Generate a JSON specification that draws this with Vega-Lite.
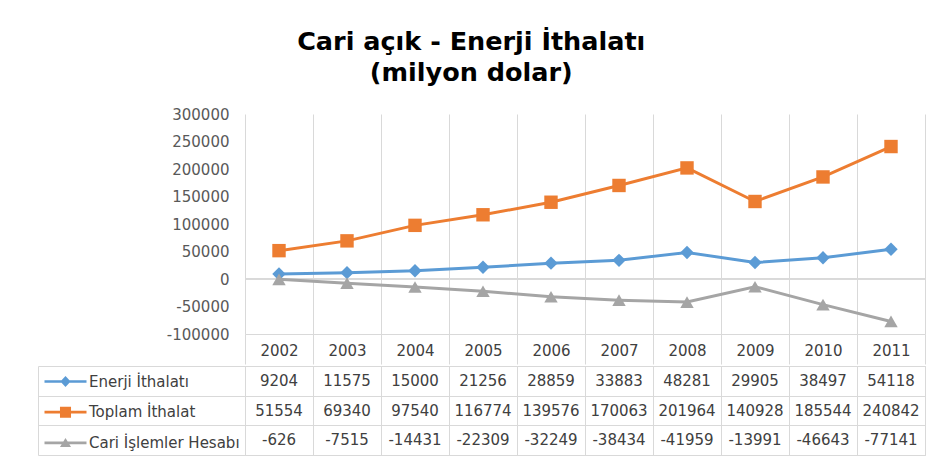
{
  "$schema": "https://vega.github.io/schema/vega-lite/v6.json",
  "background": "white",
  "padding": {"left": 37, "top": 29, "right": 10, "bottom": 5},
  "title": {
    "text": ["Cari açık - Enerji İthalatı", "(milyon dolar)"],
    "font": "DejaVu Sans",
    "fontWeight": "bold",
    "fontSize": 25.5,
    "lineHeight": 31,
    "color": "#000000",
    "anchor": "middle",
    "offset": 21,
    "dx": -10
  },
  "data": {
    "values": [
      {"year": "2002", "series": "Enerji İthalatı", "value": 9204},
      {"year": "2003", "series": "Enerji İthalatı", "value": 11575},
      {"year": "2004", "series": "Enerji İthalatı", "value": 15000},
      {"year": "2005", "series": "Enerji İthalatı", "value": 21256},
      {"year": "2006", "series": "Enerji İthalatı", "value": 28859},
      {"year": "2007", "series": "Enerji İthalatı", "value": 33883},
      {"year": "2008", "series": "Enerji İthalatı", "value": 48281},
      {"year": "2009", "series": "Enerji İthalatı", "value": 29905},
      {"year": "2010", "series": "Enerji İthalatı", "value": 38497},
      {"year": "2011", "series": "Enerji İthalatı", "value": 54118},
      {"year": "2002", "series": "Toplam İthalat", "value": 51554},
      {"year": "2003", "series": "Toplam İthalat", "value": 69340},
      {"year": "2004", "series": "Toplam İthalat", "value": 97540},
      {"year": "2005", "series": "Toplam İthalat", "value": 116774},
      {"year": "2006", "series": "Toplam İthalat", "value": 139576},
      {"year": "2007", "series": "Toplam İthalat", "value": 170063},
      {"year": "2008", "series": "Toplam İthalat", "value": 201964},
      {"year": "2009", "series": "Toplam İthalat", "value": 140928},
      {"year": "2010", "series": "Toplam İthalat", "value": 185544},
      {"year": "2011", "series": "Toplam İthalat", "value": 240842},
      {"year": "2002", "series": "Cari İşlemler Hesabı", "value": -626},
      {"year": "2003", "series": "Cari İşlemler Hesabı", "value": -7515},
      {"year": "2004", "series": "Cari İşlemler Hesabı", "value": -14431},
      {"year": "2005", "series": "Cari İşlemler Hesabı", "value": -22309},
      {"year": "2006", "series": "Cari İşlemler Hesabı", "value": -32249},
      {"year": "2007", "series": "Cari İşlemler Hesabı", "value": -38434},
      {"year": "2008", "series": "Cari İşlemler Hesabı", "value": -41959},
      {"year": "2009", "series": "Cari İşlemler Hesabı", "value": -13991},
      {"year": "2010", "series": "Cari İşlemler Hesabı", "value": -46643},
      {"year": "2011", "series": "Cari İşlemler Hesabı", "value": -77141}
    ]
  },
  "spacing": 0,
  "resolve": {
    "scale": {"color": "independent", "shape": "independent"},
    "legend": {"color": "independent", "shape": "independent"}
  },
  "config": {"axis": {"labelOverlap": false}},
  "vconcat": [
    {
      "width": 680,
      "height": 220,
      "view": {"stroke": null},
      "layer": [
        {
          "mark": {"type": "rule", "color": "#d9d9d9", "strokeWidth": 1},
          "encoding": {
            "y": {
              "datum": 0, "type": "quantitative",
              "scale": {"domain": [-100000, 300000], "nice": false, "zero": false},
              "axis": {
                "title": null, "tickCount": 8,
                "grid": false, "ticks": false, "domain": false, "labelPadding": 16,
                "labelOverlap": false,
                "labelColor": "#595959", "labelFont": "DejaVu Sans", "labelFontSize": 15,
                "labelExpr": "'' + datum.value"
              }
            }
          }
        },
        {
          "mark": {"type": "line", "strokeWidth": 3},
          "encoding": {
            "x": {
              "field": "year", "type": "ordinal",
              "scale": {"type": "band", "paddingInner": 0, "paddingOuter": 0},
              "axis": {
                "orient": "bottom", "title": null, "grid": true, "gridColor": "#d9d9d9",
                "tickBand": "extent", "ticks": true, "tickSize": 30, "tickColor": "#d9d9d9",
                "domain": true, "domainColor": "#d9d9d9", "labelAngle": 0,
                "labelBaseline": "middle", "labelPadding": -14, "labelColor": "#404040",
                "labelFont": "DejaVu Sans", "labelFontSize": 15
              }
            },
            "y": {
              "field": "value", "type": "quantitative",
              "scale": {"domain": [-100000, 300000], "nice": false, "zero": false},
              "axis": {
                "title": null, "tickCount": 8,
                "grid": false, "ticks": false, "domain": false, "labelPadding": 16,
                "labelOverlap": false,
                "labelColor": "#595959", "labelFont": "DejaVu Sans", "labelFontSize": 15,
                "labelExpr": "'' + datum.value"
              }
            },
            "color": {
              "field": "series", "type": "nominal",
              "scale": {
                "domain": ["Enerji İthalatı", "Toplam İthalat", "Cari İşlemler Hesabı"],
                "range": ["#5b9bd5", "#ed7d31", "#a5a5a5"]
              },
              "legend": null
            }
          }
        },
        {
          "mark": {"type": "point", "filled": true, "size": 180, "opacity": 1},
          "encoding": {
            "x": {"field": "year", "type": "ordinal", "scale": {"type": "band", "paddingInner": 0, "paddingOuter": 0}},
            "y": {"field": "value", "type": "quantitative"},
            "color": {
              "field": "series", "type": "nominal",
              "scale": {
                "domain": ["Enerji İthalatı", "Toplam İthalat", "Cari İşlemler Hesabı"],
                "range": ["#5b9bd5", "#ed7d31", "#a5a5a5"]
              },
              "legend": null
            },
            "shape": {
              "field": "series", "type": "nominal",
              "scale": {
                "domain": ["Enerji İthalatı", "Toplam İthalat", "Cari İşlemler Hesabı"],
                "range": ["diamond", "square", "triangle-up"]
              },
              "legend": null
            }
          }
        }
      ]
    },
    {
      "width": 680,
      "height": 89,
      "view": {"stroke": "#d9d9d9"},
      "layer": [
        {
          "mark": {"type": "text", "font": "DejaVu Sans", "fontSize": 15, "color": "#404040", "baseline": "middle", "align": "center"},
          "encoding": {
            "x": {
              "field": "year", "type": "ordinal",
              "scale": {"type": "band", "paddingInner": 0, "paddingOuter": 0},
              "axis": {
                "orient": "bottom", "title": null, "grid": true, "gridColor": "#d9d9d9",
                "tickBand": "extent", "ticks": false, "labels": false, "domain": false
              }
            },
            "y": {
              "field": "series", "type": "nominal",
              "scale": {
                "domain": ["Enerji İthalatı", "Toplam İthalat", "Cari İşlemler Hesabı"],
                "paddingInner": 0, "paddingOuter": 0
              },
              "axis": {
                "title": null, "offset": 207, "domain": true, "domainColor": "#d9d9d9",
                "ticks": true, "tickSize": -207, "tickBand": "extent", "tickColor": "#d9d9d9",
                "labels": false, "grid": true, "gridColor": "#d9d9d9"
              }
            },
            "text": {"field": "value", "type": "nominal"}
          }
        },
        {
          "mark": {"type": "point", "filled": true, "opacity": 0},
          "encoding": {
            "x": {"field": "year", "type": "ordinal"},
            "y": {"field": "series", "type": "nominal"},
            "color": {
              "field": "series", "type": "nominal",
              "scale": {
                "domain": ["Enerji İthalatı", "Toplam İthalat", "Cari İşlemler Hesabı"],
                "range": ["#5b9bd5", "#ed7d31", "#a5a5a5"]
              },
              "legend": {
                "orient": "none", "legendX": -187, "legendY": 8, "title": null,
                "symbolSize": 144, "symbolStrokeWidth": 0, "symbolOpacity": 1,
                "labelFont": "DejaVu Sans", "labelFontSize": 15, "labelColor": "#404040",
                "labelOffset": 16, "rowPadding": 14.67, "padding": 0, "direction": "vertical", "labelLimit": 0
              }
            },
            "shape": {
              "field": "series", "type": "nominal",
              "scale": {
                "domain": ["Enerji İthalatı", "Toplam İthalat", "Cari İşlemler Hesabı"],
                "range": [
                  "M-3.5,-0.22H3.5V0.22H-3.5Z M0,-0.92L0.85,0L0,0.92L-0.85,0Z",
                  "M-3.5,-0.22H3.5V0.22H-3.5Z M-0.92,-0.92H0.92V0.92H-0.92Z",
                  "M-3.5,-0.22H3.5V0.22H-3.5Z M0,-0.8L0.92,0.7L-0.92,0.7Z"
                ]
              },
              "legend": {
                "orient": "none", "legendX": -187, "legendY": 8, "title": null,
                "symbolSize": 144, "symbolStrokeWidth": 0, "symbolOpacity": 1,
                "labelFont": "DejaVu Sans", "labelFontSize": 15, "labelColor": "#404040",
                "labelOffset": 16, "rowPadding": 14.67, "padding": 0, "direction": "vertical", "labelLimit": 0
              }
            }
          }
        }
      ]
    }
  ]
}
